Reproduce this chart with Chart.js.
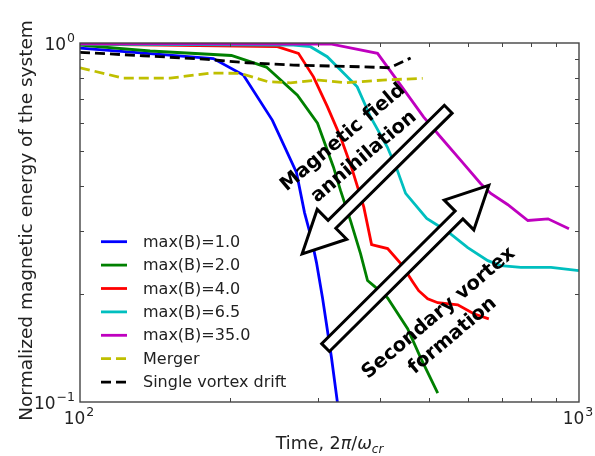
<!DOCTYPE html>
<html><head><meta charset="utf-8">
<script src="https://cdn.jsdelivr.net/npm/chart.js@4/dist/chart.umd.min.js"></script>
<style>html,body{margin:0;padding:0;background:#fff;}#wrap{width:595px;height:456px;}</style>
</head><body><div id="wrap"><canvas id="c" width="595" height="456"></canvas></div>
<script>
// ---- data (time in 2pi/omega_cr, normalized magnetic energy) ----
const seriesLabels = ['max(B)=1.0','max(B)=2.0','max(B)=4.0','max(B)=6.5','max(B)=35.0','Merger','Single vortex drift'];
const timeB1 = [100, 185, 212.5, 243, 271.5, 281.8, 291, 297.8, 306.2, 313.3, 319.1, 328.1, 331.2];
const energyB1 = [0.968, 0.905, 0.814, 0.609, 0.436, 0.337, 0.285, 0.2445, 0.195, 0.158, 0.133, 0.0994, 0.093];
const timeB2 = [100, 138.2, 201.1, 236.3, 272.7, 299.2, 322.1, 332.7, 348.4, 364.9, 376.9, 387.6, 413.5, 453.5, 481.6, 521.1];
const energyB2 = [0.987, 0.950, 0.923, 0.857, 0.716, 0.598, 0.451, 0.3885, 0.320, 0.259, 0.218, 0.211, 0.195, 0.160, 0.1327, 0.1059];
const timeB4 = [100, 248.6, 274, 293.7, 313.3, 332.7, 349.9, 370.5, 384.0, 391.1, 413.5, 441.2, 464.1, 477.2, 497.5, 521.1, 571.5, 615.4, 659.6];
const energyB4 = [0.9936, 0.9765, 0.936, 0.805, 0.664, 0.547, 0.451, 0.349, 0.2746, 0.2728, 0.2676, 0.2414, 0.2163, 0.2042, 0.194, 0.189, 0.1866, 0.1761, 0.1705];
const timeB65 = [100, 267.7, 289.6, 312.9, 337.4, 359.4, 382.2, 412.9, 432.5, 449.3, 495.2, 544.9, 598.5, 656.5, 697.2, 764.7, 878.8, 1000];
const energyB65 = [0.9936, 0.9872, 0.9765, 0.9157, 0.8245, 0.755, 0.6223, 0.5132, 0.4417, 0.3811, 0.3244, 0.2985, 0.2692, 0.2476, 0.2398, 0.2372, 0.2372, 0.2322];
const timeB35 = [100, 317.7, 394.7, 439.1, 488.4, 528.4, 579.5, 635.6, 665.7, 719.1, 789.8, 866.7, 954.8];
const energyB35 = [0.996, 0.9936, 0.936, 0.7633, 0.6214, 0.5463, 0.471, 0.4056, 0.3811, 0.355, 0.3203, 0.3238, 0.3037];
const timeMerger = [100, 122, 151.6, 182.4, 209.6, 238.5, 264.1, 300.6, 340.5, 404.0, 486.1];
const energyMerger = [0.8531, 0.7985, 0.7985, 0.8245, 0.8229, 0.7797, 0.7747, 0.7883, 0.7747, 0.7883, 0.797];
const timeSingle = [100, 133.8, 179.9, 216.4, 267.7, 364.9, 417.4, 459.8];
const energySingle = [0.9419, 0.9216, 0.9004, 0.8809, 0.868, 0.8586, 0.8531, 0.908];

// ---- ticks ----
const xMajorTicks = [100, 1000];
const xTickExponents = ['2', '3'];
const xMinorTicks = [200, 300, 400, 500, 600, 700, 800, 900];
const yMajorTicks = [0.1, 1];
const yTickExponents = ['\u22121', '0'];
const yMinorTicks = [0.2, 0.3, 0.4, 0.5, 0.6, 0.7, 0.8, 0.9];

// ---- annotations (data coordinates) ----
const arrowAnnihilation = {tail: [547, 0.654], tip: [278.7, 0.2586]};
const arrowFormation = {tail: [310.5, 0.1418], tip: [659.6, 0.4012]};
const annotationLines = [
  {text: 'Magnetic field', at: [336.6, 0.5452]},
  {text: 'annihilation', at: [370.7, 0.4819]},
  {text: 'Secondary vortex', at: [523.5, 0.1767]},
  {text: 'formation', at: [558.5, 0.1529]}
];

const colors = ['#0000ff', '#008000', '#ff0000', '#00bfbf', '#bf00bf', '#bfbf00', '#000000'];
const dashes = [[], [], [], [], [], [10, 5], [10, 5]];
const xs = [timeB1, timeB2, timeB4, timeB65, timeB35, timeMerger, timeSingle];
const ys = [energyB1, energyB2, energyB4, energyB65, energyB35, energyMerger, energySingle];

const datasets = seriesLabels.map((lab, i) => ({
  label: lab,
  data: xs[i].map((t, k) => ({x: t, y: ys[i][k]})),
  borderColor: colors[i],
  backgroundColor: colors[i],
  borderWidth: 2.8,
  borderDash: dashes[i],
  pointRadius: 0,
  tension: 0,
  fill: false,
  clip: 0,
  order: seriesLabels.length - i
}));

const FONT = '"DejaVu Sans", "Liberation Sans", sans-serif';

function drawPow(ctx, base, exp, x, y, align) {
  ctx.font = '17px ' + FONT;
  const wb = ctx.measureText(base).width;
  ctx.font = '12.5px ' + FONT;
  const we = ctx.measureText(exp).width;
  const w = wb + we + 1;
  let x0 = align === 'right' ? x - w : align === 'center' ? x - w / 2 : x;
  ctx.textAlign = 'left';
  ctx.textBaseline = 'alphabetic';
  ctx.font = '17px ' + FONT;
  ctx.fillText(base, x0, y);
  ctx.font = '12.5px ' + FONT;
  ctx.fillText(exp, x0 + wb + 1, y - 8);
}

function drawArrow(ctx, p0, p1, sh, hh, hl) {
  const dx = p1[0] - p0[0], dy = p1[1] - p0[1];
  const L = Math.hypot(dx, dy);
  const ux = dx / L, uy = dy / L;
  const nx = -uy, ny = ux;
  const bx = p1[0] - ux * hl, by = p1[1] - uy * hl;
  ctx.beginPath();
  ctx.moveTo(p0[0] + nx * sh, p0[1] + ny * sh);
  ctx.lineTo(bx + nx * sh, by + ny * sh);
  ctx.lineTo(bx + nx * hh, by + ny * hh);
  ctx.lineTo(p1[0], p1[1]);
  ctx.lineTo(bx - nx * hh, by - ny * hh);
  ctx.lineTo(bx - nx * sh, by - ny * sh);
  ctx.lineTo(p0[0] - nx * sh, p0[1] - ny * sh);
  ctx.closePath();
  ctx.fillStyle = '#ffffff';
  ctx.fill();
  ctx.lineWidth = 3;
  ctx.lineJoin = 'miter';
  ctx.strokeStyle = '#000000';
  ctx.stroke();
}

const decorPlugin = {
  id: 'decor',
  afterDatasetsDraw(chart) {
    const ctx = chart.ctx;
    const xs_ = chart.scales.x, ys_ = chart.scales.y;
    const ca = chart.chartArea;
    const P = (d) => [xs_.getPixelForValue(d[0]), ys_.getPixelForValue(d[1])];
    ctx.save();
    // arrows
    drawArrow(ctx, P(arrowAnnihilation.tail), P(arrowAnnihilation.tip), 5.5, 21, 42);
    drawArrow(ctx, P(arrowFormation.tail), P(arrowFormation.tip), 5.5, 21, 42);
    // annotation text
    ctx.fillStyle = '#000';
    ctx.font = 'bold 19.5px ' + FONT;
    ctx.textAlign = 'center';
    ctx.textBaseline = 'middle';
    annotationLines.forEach(a => {
      const p = P(a.at);
      ctx.save();
      ctx.translate(p[0], p[1]);
      ctx.rotate(-40 * Math.PI / 180);
      ctx.fillText(a.text, 0, 0);
      ctx.restore();
    });
    // frame
    ctx.strokeStyle = '#444';
    ctx.lineWidth = 1.4;
    ctx.strokeRect(ca.left, ca.top, ca.right - ca.left, ca.bottom - ca.top);
    // ticks (inward, all sides)
    ctx.lineWidth = 1;
    ctx.strokeStyle = '#444';
    ctx.beginPath();
    xMinorTicks.forEach(v => {
      const x = Math.round(xs_.getPixelForValue(v)) + 0.5;
      ctx.moveTo(x, ca.bottom); ctx.lineTo(x, ca.bottom - 4);
      ctx.moveTo(x, ca.top); ctx.lineTo(x, ca.top + 4);
    });
    yMinorTicks.forEach(v => {
      const y = Math.round(ys_.getPixelForValue(v)) + 0.5;
      ctx.moveTo(ca.left, y); ctx.lineTo(ca.left + 4, y);
      ctx.moveTo(ca.right, y); ctx.lineTo(ca.right - 4, y);
    });
    ctx.stroke();
    // tick labels
    ctx.fillStyle = '#222';
    xMajorTicks.forEach((v, i) => drawPow(ctx, '10', xTickExponents[i], xs_.getPixelForValue(v) - 1, ca.bottom + 22, 'center'));
    yMajorTicks.forEach((v, i) => drawPow(ctx, '10', yTickExponents[i], ca.left - 5, ys_.getPixelForValue(v) + 7, 'right'));
    // y axis label
    ctx.save();
    ctx.translate(32, (ca.top + ca.bottom) / 2 - 2);
    ctx.rotate(-Math.PI / 2);
    ctx.font = '18.5px ' + FONT;
    ctx.textAlign = 'center';
    ctx.textBaseline = 'alphabetic';
    ctx.fillText('Normalized magnetic energy of the system', 0, 0);
    ctx.restore();
    // x axis label with math parts
    const parts = [
      {t: 'Time, ', f: '17.5px ' + FONT, dy: 0},
      {t: '2', f: '17.5px ' + FONT, dy: 0},
      {t: '\u03c0', f: 'italic 17.5px ' + FONT, dy: 0},
      {t: '/', f: '17.5px ' + FONT, dy: 0},
      {t: '\u03c9', f: 'italic 17.5px ' + FONT, dy: 0},
      {t: 'cr', f: 'italic 12px ' + FONT, dy: 4}
    ];
    let total = 0;
    parts.forEach(p => { ctx.font = p.f; p.w = ctx.measureText(p.t).width; total += p.w; });
    let cx = (ca.left + ca.right) / 2 - total / 2;
    ctx.textAlign = 'left';
    ctx.textBaseline = 'alphabetic';
    parts.forEach(p => { ctx.font = p.f; ctx.fillText(p.t, cx, 449 + p.dy); cx += p.w; });
    // legend
    const lx0 = ca.left + 21, lx1 = ca.left + 47, tx = ca.left + 63;
    let ly = 241.7;
    ctx.font = '16px ' + FONT;
    ctx.textBaseline = 'middle';
    chart.data.datasets.forEach(ds => {
      ctx.beginPath();
      ctx.setLineDash(ds.borderDash || []);
      ctx.strokeStyle = ds.borderColor;
      ctx.lineWidth = 2.8;
      ctx.moveTo(lx0, ly); ctx.lineTo(lx1, ly);
      ctx.stroke();
      ctx.setLineDash([]);
      ctx.fillStyle = '#222';
      ctx.fillText(ds.label, tx, ly + 1);
      ly += 23.4;
    });
    ctx.restore();
  }
};

new Chart(document.getElementById('c'), {
  type: 'line',
  data: {datasets},
  options: {
    responsive: false,
    animation: false,
    devicePixelRatio: 1,
    layout: {padding: {left: 80, right: 16, top: 43, bottom: 54}},
    plugins: {legend: {display: false}, tooltip: {enabled: false}},
    scales: {
      x: {type: 'logarithmic', min: 100, max: 1000, display: false},
      y: {type: 'logarithmic', min: 0.1, max: 1, display: false}
    }
  },
  plugins: [decorPlugin]
});
</script></body></html>
